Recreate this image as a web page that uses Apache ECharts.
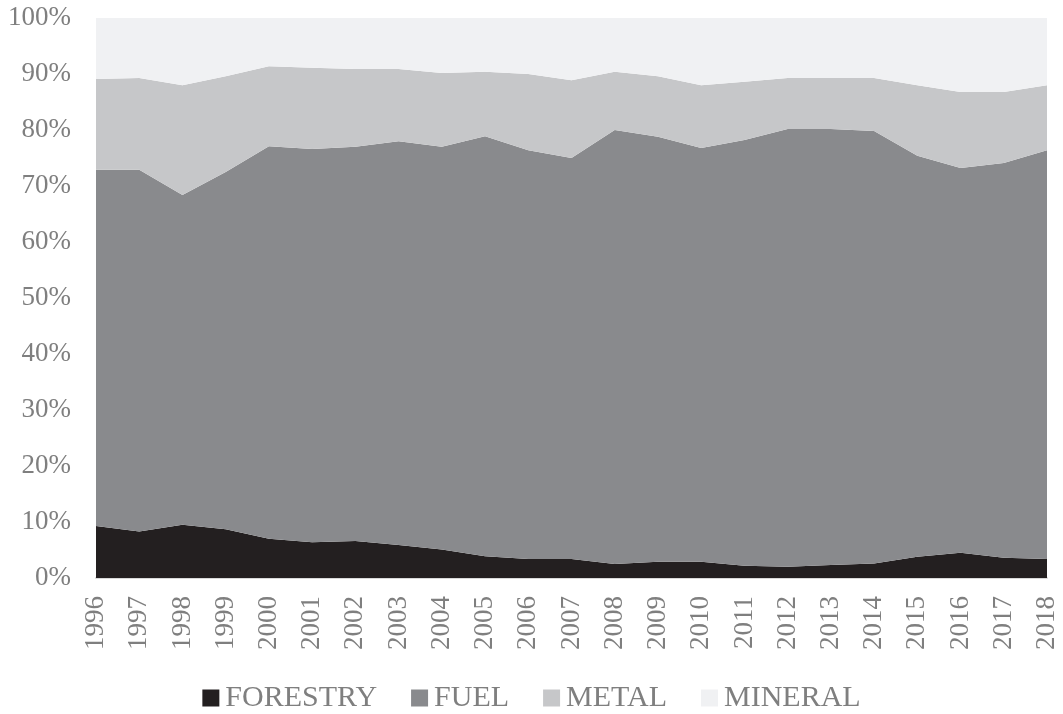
<!DOCTYPE html>
<html>
<head>
<meta charset="utf-8">
<script src="https://cdn.jsdelivr.net/npm/echarts@6/dist/echarts.min.js"></script>
<style>html,body{margin:0;padding:0;background:#fff}#c{width:1063px;height:714px}</style>
</head>
<body>
<div id="c"></div>
<script>
const years = ['1996','1997','1998','1999','2000','2001','2002','2003','2004','2005','2006','2007','2008','2009','2010','2011','2012','2013','2014','2015','2016','2017','2018'];
const forestry = [9.3, 8.3, 9.5, 8.7, 7.0, 6.4, 6.6, 5.9, 5.1, 3.9, 3.4, 3.4, 2.5, 2.9, 2.9, 2.2, 2.0, 2.3, 2.6, 3.8, 4.5, 3.6, 3.4];
const fuel = [63.6, 64.6, 58.9, 63.8, 70.1, 70.2, 70.4, 72.1, 71.9, 75.0, 73.0, 71.6, 77.5, 75.9, 73.9, 76.0, 78.2, 77.9, 77.2, 71.6, 68.7, 70.5, 73.0];
const metal = [16.2, 16.4, 19.6, 17.1, 14.3, 14.5, 13.9, 12.9, 13.2, 11.5, 13.6, 13.9, 10.4, 10.8, 11.2, 10.4, 9.1, 9.1, 9.5, 12.6, 13.6, 12.7, 11.6];
const mineral = [10.9, 10.7, 12.0, 10.4, 8.6, 8.9, 9.1, 9.1, 9.8, 9.6, 10.0, 11.1, 9.6, 10.5, 12.0, 11.4, 10.7, 10.7, 10.7, 12.0, 13.2, 13.2, 12.0];
const seriesNames = ['FORESTRY', 'FUEL', 'METAL', 'MINERAL'];
const seriesColors = ['#231f20', '#898a8d', '#c6c7c9', '#f0f1f3'];
const seriesData = [forestry, fuel, metal, mineral];

const font = '"Liberation Serif", "DejaVu Serif", serif';
const chart = echarts.init(document.getElementById('c'), null, {renderer: 'canvas'});
chart.setOption({
  animation: false,
  backgroundColor: '#ffffff',
  color: seriesColors,
  grid: {left: 96, right: 16, top: 18, bottom: 136, containLabel: false},
  legend: {
    top: 683,
    left: 'center',
    icon: 'rect',
    itemWidth: 17,
    itemHeight: 17,
    itemGap: 34,
    padding: 0,
    textStyle: {fontFamily: font, fontSize: 30, color: '#7f7f7f', padding: [0, 0, 0, 1]},
    data: seriesNames
  },
  xAxis: {
    type: 'category',
    data: years,
    boundaryGap: false,
    axisLine: {show: true, lineStyle: {color: '#d9d9d9', width: 2}},
    axisTick: {show: false},
    axisLabel: {rotate: 90, interval: 0, fontFamily: font, fontSize: 27, color: '#7f7f7f', margin: 18}
  },
  yAxis: {
    type: 'value',
    min: 0,
    max: 100,
    interval: 10,
    axisLine: {show: false},
    axisTick: {show: false},
    splitLine: {show: false},
    axisLabel: {formatter: '{value}%', fontFamily: font, fontSize: 27, color: '#7f7f7f', margin: 25}
  },
  series: seriesNames.map((n, i) => ({
    name: n,
    type: 'line',
    stack: 'total',
    data: seriesData[i],
    showSymbol: false,
    symbol: 'none',
    lineStyle: {width: 0, opacity: 0},
    areaStyle: {color: seriesColors[i], opacity: 1},
    itemStyle: {color: seriesColors[i]},
    z: 2
  }))
});
</script>
</body>
</html>
